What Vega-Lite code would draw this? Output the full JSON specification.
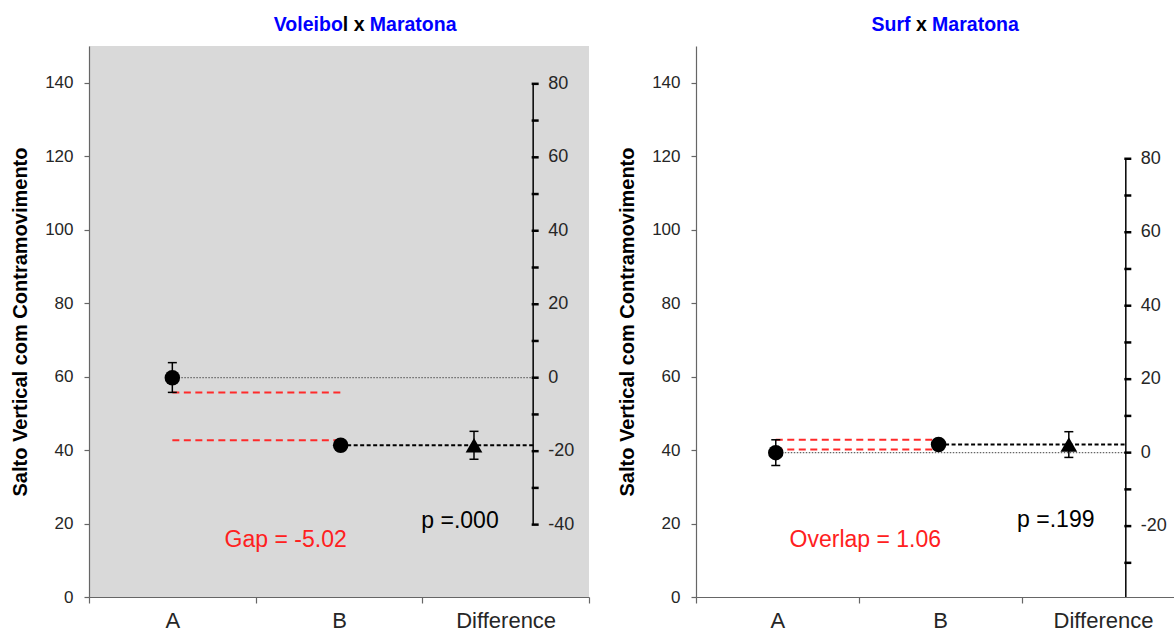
{
  "$schema": "https://vega.github.io/schema/vega-lite/v6.json",
  "padding": {"left": 10, "top": 15, "right": 0, "bottom": 0},
  "background": "white",
  "spacing": 27,
  "resolve": {"scale": {"x": "independent", "y": "independent"}},
  "datasets": {
    "ptsL": [
      {"group": "A", "pos": 0.5, "mean": 59.7, "lo": 55.7, "hi": 63.8},
      {"group": "B", "pos": 1.51, "mean": 41.3, "lo": 39.9, "hi": 42.7}
    ],
    "difL": [{"group": "Difference", "pos": 2.31, "mean": -18.4, "lo": -22.2, "hi": -14.6}],
    "refL": [
      {"kind": "dotted", "x1": 0.5, "x2": 2.665, "y": 59.7},
      {"kind": "dashed", "x1": 1.51, "x2": 2.665, "y": 41.3}
    ],
    "gapL": [
      {"x1": 0.5, "x2": 1.51, "y": 55.7},
      {"x1": 0.5, "x2": 1.51, "y": 42.7}
    ],
    "axL": [{"x": 2.665, "from": -40, "to": 80}],
    "tkL": [{"d": -40}, {"d": -30}, {"d": -20}, {"d": -10}, {"d": 0}, {"d": 10}, {"d": 20}, {"d": 30}, {"d": 40}, {"d": 50}, {"d": 60}, {"d": 70}, {"d": 80}],
    "txtL": [
      {"label": "Gap = -5.02", "kind": "gap", "pos": 1.18, "y": 15.6},
      {"label": "p =.000", "kind": "p", "pos": 2.226, "y": 20.6}
    ],
    "ttlL": [{"a": "Voleibo", "b": "l x", "c": "Maratona", "pos": 1.62, "y": 155.7}],
    "ptsR": [
      {"group": "A", "pos": 0.49, "mean": 39.3, "lo": 35.8, "hi": 42.8},
      {"group": "B", "pos": 1.49, "mean": 41.5, "lo": 40.15, "hi": 42.85}
    ],
    "difR": [{"group": "Difference", "pos": 2.29, "mean": 2.2, "lo": -1.3, "hi": 5.7}],
    "refR": [
      {"kind": "dotted", "x1": 0.49, "x2": 2.64, "y": 39.3},
      {"kind": "dashed", "x1": 1.49, "x2": 2.64, "y": 41.5}
    ],
    "gapR": [
      {"x1": 0.49, "x2": 1.49, "y": 42.8},
      {"x1": 0.49, "x2": 1.49, "y": 40.15}
    ],
    "axR": [{"x": 2.64, "from": -39.3, "to": 80}],
    "tkR": [{"d": -30}, {"d": -20}, {"d": -10}, {"d": 0}, {"d": 10}, {"d": 20}, {"d": 30}, {"d": 40}, {"d": 50}, {"d": 60}, {"d": 70}, {"d": 80}],
    "txtR": [
      {"label": "Overlap = 1.06", "kind": "gap", "pos": 1.04, "y": 15.5},
      {"label": "p =.199", "kind": "p", "pos": 2.21, "y": 20.9}
    ],
    "ttlR": [{"a": "Surf", "b": "x", "c": "Maratona", "pos": 1.384, "y": 155.7}]
  },
  "hconcat": [
    {
      "width": 500,
      "height": 551,
      "view": {"fill": "#d9d9d9", "stroke": null},
      "resolve": {"scale": {"y": "independent"}},
      "layer": [
        {
          "layer": [
            {
              "data": {"name": "refL"},
              "transform": [{"filter": "datum.kind === 'dotted'"}],
              "mark": {"type": "rule", "color": "#666666", "strokeWidth": 1.2, "strokeDash": [1.5, 1.5]},
              "encoding": {
                "x": {"field": "x1", "type": "quantitative", "scale": {"domain": [0, 3], "nice": false, "zero": false},
                  "axis": {"title": null, "values": [0, 0.5, 1, 1.5, 2, 2.5, 3],
                    "labelExpr": "datum.value === 0.5 ? 'A' : datum.value === 1.5 ? 'B' : datum.value === 2.5 ? 'Difference' : ''",
                    "tickOpacity": {"condition": {"test": "datum.value % 1 !== 0", "value": 0}, "value": 1},
                    "labelFlush": false, "labelOverlap": false, "labelBound": false}},
                "x2": {"field": "x2"},
                "y": {"field": "y", "type": "quantitative", "scale": {"domain": [0, 150], "nice": false, "zero": false},
                  "axis": {"title": "Salto Vertical com Contramovimento", "values": [0, 10, 20, 30, 40, 50, 60, 70, 80, 90, 100, 110, 120, 130, 140, 150],
                    "labelExpr": "datum.value % 20 === 0 && datum.value < 150 ? datum.label : ''", "labelOverlap": false}}
              }
            },
            {
              "data": {"name": "refL"},
              "transform": [{"filter": "datum.kind === 'dashed'"}],
              "mark": {"type": "rule", "color": "#000000", "strokeWidth": 2, "strokeDash": [4, 2.5]},
              "encoding": {"x": {"field": "x1", "type": "quantitative"}, "x2": {"field": "x2"}, "y": {"field": "y", "type": "quantitative"}}
            },
            {
              "data": {"name": "gapL"},
              "mark": {"type": "rule", "color": "#ff2a2a", "strokeWidth": 2, "strokeDash": [7, 4.5]},
              "encoding": {"x": {"field": "x1", "type": "quantitative"}, "x2": {"field": "x2"}, "y": {"field": "y", "type": "quantitative"}}
            },
            {
              "data": {"name": "ptsL"},
              "mark": {"type": "rule", "color": "#000000", "strokeWidth": 1.5},
              "encoding": {"x": {"field": "pos", "type": "quantitative"}, "y": {"field": "lo", "type": "quantitative"}, "y2": {"field": "hi"}}
            },
            {
              "data": {"name": "ptsL"},
              "mark": {"type": "tick", "orient": "horizontal", "color": "#000000", "size": 9, "thickness": 1.5, "opacity": 1},
              "encoding": {"x": {"field": "pos", "type": "quantitative"}, "y": {"field": "lo", "type": "quantitative"}}
            },
            {
              "data": {"name": "ptsL"},
              "mark": {"type": "tick", "orient": "horizontal", "color": "#000000", "size": 9, "thickness": 1.5, "opacity": 1},
              "encoding": {"x": {"field": "pos", "type": "quantitative"}, "y": {"field": "hi", "type": "quantitative"}}
            },
            {
              "data": {"name": "ptsL"},
              "mark": {"type": "point", "shape": "circle", "filled": true, "color": "#000000", "size": 240, "opacity": 1},
              "encoding": {"x": {"field": "pos", "type": "quantitative"}, "y": {"field": "mean", "type": "quantitative"}}
            },
            {
              "data": {"name": "txtL"},
              "mark": {"type": "text", "fontSize": 23, "align": "center", "baseline": "middle"},
              "encoding": {
                "x": {"field": "pos", "type": "quantitative"},
                "y": {"field": "y", "type": "quantitative"},
                "text": {"field": "label", "type": "nominal"},
                "color": {"field": "kind", "type": "nominal", "scale": {"domain": ["gap", "p"], "range": ["#ff2020", "#000000"]}, "legend": null}
              }
            },
            {
              "data": {"name": "ttlL"},
              "mark": {"type": "text", "fontSize": 19.5, "fontWeight": "bold", "align": "right", "baseline": "middle", "dx": -16.2, "color": "#0000ff"},
              "encoding": {"x": {"field": "pos", "type": "quantitative"}, "y": {"field": "y", "type": "quantitative"}, "text": {"field": "a", "type": "nominal"}}
            },
            {
              "data": {"name": "ttlL"},
              "mark": {"type": "text", "fontSize": 19.5, "fontWeight": "bold", "align": "left", "baseline": "middle", "dx": -16.2, "color": "#000000"},
              "encoding": {"x": {"field": "pos", "type": "quantitative"}, "y": {"field": "y", "type": "quantitative"}, "text": {"field": "b", "type": "nominal"}}
            },
            {
              "data": {"name": "ttlL"},
              "mark": {"type": "text", "fontSize": 19.5, "fontWeight": "bold", "align": "left", "baseline": "middle", "dx": 10.8, "color": "#0000ff"},
              "encoding": {"x": {"field": "pos", "type": "quantitative"}, "y": {"field": "y", "type": "quantitative"}, "text": {"field": "c", "type": "nominal"}}
            }
          ]
        },
        {
          "layer": [
            {
              "data": {"name": "axL"},
              "mark": {"type": "rule", "color": "#000000", "strokeWidth": 1.5},
              "encoding": {
                "x": {"field": "x", "type": "quantitative"},
                "y": {"field": "from", "type": "quantitative", "scale": {"domain": [-59.7, 90.3], "nice": false, "zero": false}, "axis": null},
                "y2": {"field": "to"}
              }
            },
            {
              "data": {"name": "tkL"},
              "mark": {"type": "tick", "orient": "horizontal", "color": "#000000", "size": 7, "thickness": 2.5, "xOffset": 2, "opacity": 1},
              "encoding": {"x": {"datum": 2.665, "type": "quantitative"}, "y": {"field": "d", "type": "quantitative", "axis": null}}
            },
            {
              "data": {"name": "tkL"},
              "transform": [{"filter": "datum.d % 20 === 0"}],
              "mark": {"type": "text", "fontSize": 18, "align": "left", "baseline": "middle", "dx": 15, "color": "#262626"},
              "encoding": {"x": {"datum": 2.665, "type": "quantitative"}, "y": {"field": "d", "type": "quantitative", "axis": null}, "text": {"field": "d", "type": "nominal"}}
            },
            {
              "data": {"name": "difL"},
              "mark": {"type": "rule", "color": "#000000", "strokeWidth": 1.5},
              "encoding": {"x": {"field": "pos", "type": "quantitative"}, "y": {"field": "lo", "type": "quantitative", "axis": null}, "y2": {"field": "hi"}}
            },
            {
              "data": {"name": "difL"},
              "mark": {"type": "tick", "orient": "horizontal", "color": "#000000", "size": 9, "thickness": 1.5, "opacity": 1},
              "encoding": {"x": {"field": "pos", "type": "quantitative"}, "y": {"field": "lo", "type": "quantitative", "axis": null}}
            },
            {
              "data": {"name": "difL"},
              "mark": {"type": "tick", "orient": "horizontal", "color": "#000000", "size": 9, "thickness": 1.5, "opacity": 1},
              "encoding": {"x": {"field": "pos", "type": "quantitative"}, "y": {"field": "hi", "type": "quantitative", "axis": null}}
            },
            {
              "data": {"name": "difL"},
              "mark": {"type": "point", "shape": "triangle-up", "filled": true, "color": "#000000", "size": 280, "opacity": 1},
              "encoding": {"x": {"field": "pos", "type": "quantitative"}, "y": {"field": "mean", "type": "quantitative", "axis": null}}
            }
          ]
        }
      ]
    },
    {
      "width": 478,
      "height": 551,
      "view": {"fill": "#ffffff", "stroke": null},
      "resolve": {"scale": {"y": "independent"}},
      "layer": [
        {
          "layer": [
            {
              "data": {"name": "refR"},
              "transform": [{"filter": "datum.kind === 'dotted'"}],
              "mark": {"type": "rule", "color": "#666666", "strokeWidth": 1.2, "strokeDash": [1.5, 1.5]},
              "encoding": {
                "x": {"field": "x1", "type": "quantitative", "scale": {"domain": [0, 2.936], "nice": false, "zero": false},
                  "axis": {"title": null, "values": [0, 0.5, 1, 1.5, 2, 2.5],
                    "labelExpr": "datum.value === 0.5 ? 'A' : datum.value === 1.5 ? 'B' : datum.value === 2.5 ? 'Difference' : ''",
                    "tickOpacity": {"condition": {"test": "datum.value % 1 !== 0", "value": 0}, "value": 1},
                    "labelFlush": false, "labelOverlap": false, "labelBound": false}},
                "x2": {"field": "x2"},
                "y": {"field": "y", "type": "quantitative", "scale": {"domain": [0, 150], "nice": false, "zero": false},
                  "axis": {"title": "Salto Vertical com Contramovimento", "values": [0, 10, 20, 30, 40, 50, 60, 70, 80, 90, 100, 110, 120, 130, 140, 150],
                    "labelExpr": "datum.value % 20 === 0 && datum.value < 150 ? datum.label : ''", "labelOverlap": false}}
              }
            },
            {
              "data": {"name": "refR"},
              "transform": [{"filter": "datum.kind === 'dashed'"}],
              "mark": {"type": "rule", "color": "#000000", "strokeWidth": 2, "strokeDash": [4, 2.5]},
              "encoding": {"x": {"field": "x1", "type": "quantitative"}, "x2": {"field": "x2"}, "y": {"field": "y", "type": "quantitative"}}
            },
            {
              "data": {"name": "gapR"},
              "mark": {"type": "rule", "color": "#ff2a2a", "strokeWidth": 2, "strokeDash": [7, 4.5]},
              "encoding": {"x": {"field": "x1", "type": "quantitative"}, "x2": {"field": "x2"}, "y": {"field": "y", "type": "quantitative"}}
            },
            {
              "data": {"name": "ptsR"},
              "mark": {"type": "rule", "color": "#000000", "strokeWidth": 1.5},
              "encoding": {"x": {"field": "pos", "type": "quantitative"}, "y": {"field": "lo", "type": "quantitative"}, "y2": {"field": "hi"}}
            },
            {
              "data": {"name": "ptsR"},
              "mark": {"type": "tick", "orient": "horizontal", "color": "#000000", "size": 9, "thickness": 1.5, "opacity": 1},
              "encoding": {"x": {"field": "pos", "type": "quantitative"}, "y": {"field": "lo", "type": "quantitative"}}
            },
            {
              "data": {"name": "ptsR"},
              "mark": {"type": "tick", "orient": "horizontal", "color": "#000000", "size": 9, "thickness": 1.5, "opacity": 1},
              "encoding": {"x": {"field": "pos", "type": "quantitative"}, "y": {"field": "hi", "type": "quantitative"}}
            },
            {
              "data": {"name": "ptsR"},
              "mark": {"type": "point", "shape": "circle", "filled": true, "color": "#000000", "size": 240, "opacity": 1},
              "encoding": {"x": {"field": "pos", "type": "quantitative"}, "y": {"field": "mean", "type": "quantitative"}}
            },
            {
              "data": {"name": "txtR"},
              "mark": {"type": "text", "fontSize": 23, "align": "center", "baseline": "middle"},
              "encoding": {
                "x": {"field": "pos", "type": "quantitative"},
                "y": {"field": "y", "type": "quantitative"},
                "text": {"field": "label", "type": "nominal"},
                "color": {"field": "kind", "type": "nominal", "scale": {"domain": ["gap", "p"], "range": ["#ff2020", "#000000"]}, "legend": null}
              }
            },
            {
              "data": {"name": "ttlR"},
              "mark": {"type": "text", "fontSize": 19.5, "fontWeight": "bold", "align": "right", "baseline": "middle", "dx": -10.8, "color": "#0000ff"},
              "encoding": {"x": {"field": "pos", "type": "quantitative"}, "y": {"field": "y", "type": "quantitative"}, "text": {"field": "a", "type": "nominal"}}
            },
            {
              "data": {"name": "ttlR"},
              "mark": {"type": "text", "fontSize": 19.5, "fontWeight": "bold", "align": "center", "baseline": "middle", "color": "#000000"},
              "encoding": {"x": {"field": "pos", "type": "quantitative"}, "y": {"field": "y", "type": "quantitative"}, "text": {"field": "b", "type": "nominal"}}
            },
            {
              "data": {"name": "ttlR"},
              "mark": {"type": "text", "fontSize": 19.5, "fontWeight": "bold", "align": "left", "baseline": "middle", "dx": 10.8, "color": "#0000ff"},
              "encoding": {"x": {"field": "pos", "type": "quantitative"}, "y": {"field": "y", "type": "quantitative"}, "text": {"field": "c", "type": "nominal"}}
            }
          ]
        },
        {
          "layer": [
            {
              "data": {"name": "axR"},
              "mark": {"type": "rule", "color": "#000000", "strokeWidth": 1.5},
              "encoding": {
                "x": {"field": "x", "type": "quantitative"},
                "y": {"field": "from", "type": "quantitative", "scale": {"domain": [-39.3, 110.7], "nice": false, "zero": false}, "axis": null},
                "y2": {"field": "to"}
              }
            },
            {
              "data": {"name": "tkR"},
              "mark": {"type": "tick", "orient": "horizontal", "color": "#000000", "size": 7, "thickness": 2.5, "xOffset": 2, "opacity": 1},
              "encoding": {"x": {"datum": 2.64, "type": "quantitative"}, "y": {"field": "d", "type": "quantitative", "axis": null}}
            },
            {
              "data": {"name": "tkR"},
              "transform": [{"filter": "datum.d % 20 === 0"}],
              "mark": {"type": "text", "fontSize": 18, "align": "left", "baseline": "middle", "dx": 15, "color": "#262626"},
              "encoding": {"x": {"datum": 2.64, "type": "quantitative"}, "y": {"field": "d", "type": "quantitative", "axis": null}, "text": {"field": "d", "type": "nominal"}}
            },
            {
              "data": {"name": "difR"},
              "mark": {"type": "rule", "color": "#000000", "strokeWidth": 1.5},
              "encoding": {"x": {"field": "pos", "type": "quantitative"}, "y": {"field": "lo", "type": "quantitative", "axis": null}, "y2": {"field": "hi"}}
            },
            {
              "data": {"name": "difR"},
              "mark": {"type": "tick", "orient": "horizontal", "color": "#000000", "size": 9, "thickness": 1.5, "opacity": 1},
              "encoding": {"x": {"field": "pos", "type": "quantitative"}, "y": {"field": "lo", "type": "quantitative", "axis": null}}
            },
            {
              "data": {"name": "difR"},
              "mark": {"type": "tick", "orient": "horizontal", "color": "#000000", "size": 9, "thickness": 1.5, "opacity": 1},
              "encoding": {"x": {"field": "pos", "type": "quantitative"}, "y": {"field": "hi", "type": "quantitative", "axis": null}}
            },
            {
              "data": {"name": "difR"},
              "mark": {"type": "point", "shape": "triangle-up", "filled": true, "color": "#000000", "size": 280, "opacity": 1},
              "encoding": {"x": {"field": "pos", "type": "quantitative"}, "y": {"field": "mean", "type": "quantitative", "axis": null}}
            }
          ]
        }
      ]
    }
  ],
  "config": {
    "font": "Liberation Sans",
    "view": {"stroke": null},
    "axis": {
      "grid": false,
      "domainColor": "#666666",
      "tickColor": "#666666",
      "domainWidth": 1.2,
      "tickWidth": 1.2,
      "labelColor": "#262626",
      "labelFont": "Liberation Sans",
      "titleFont": "Liberation Sans"
    },
    "axisY": {
      "tickSize": 5,
      "labelPadding": 11,
      "labelFontSize": 17,
      "titleFontSize": 20,
      "titleFontWeight": "bold",
      "titleColor": "#000000",
      "titlePadding": 14
    },
    "axisX": {
      "tickSize": 6,
      "labelPadding": 7,
      "labelFontSize": 22,
      "labelColor": "#262626"
    }
  }
}
